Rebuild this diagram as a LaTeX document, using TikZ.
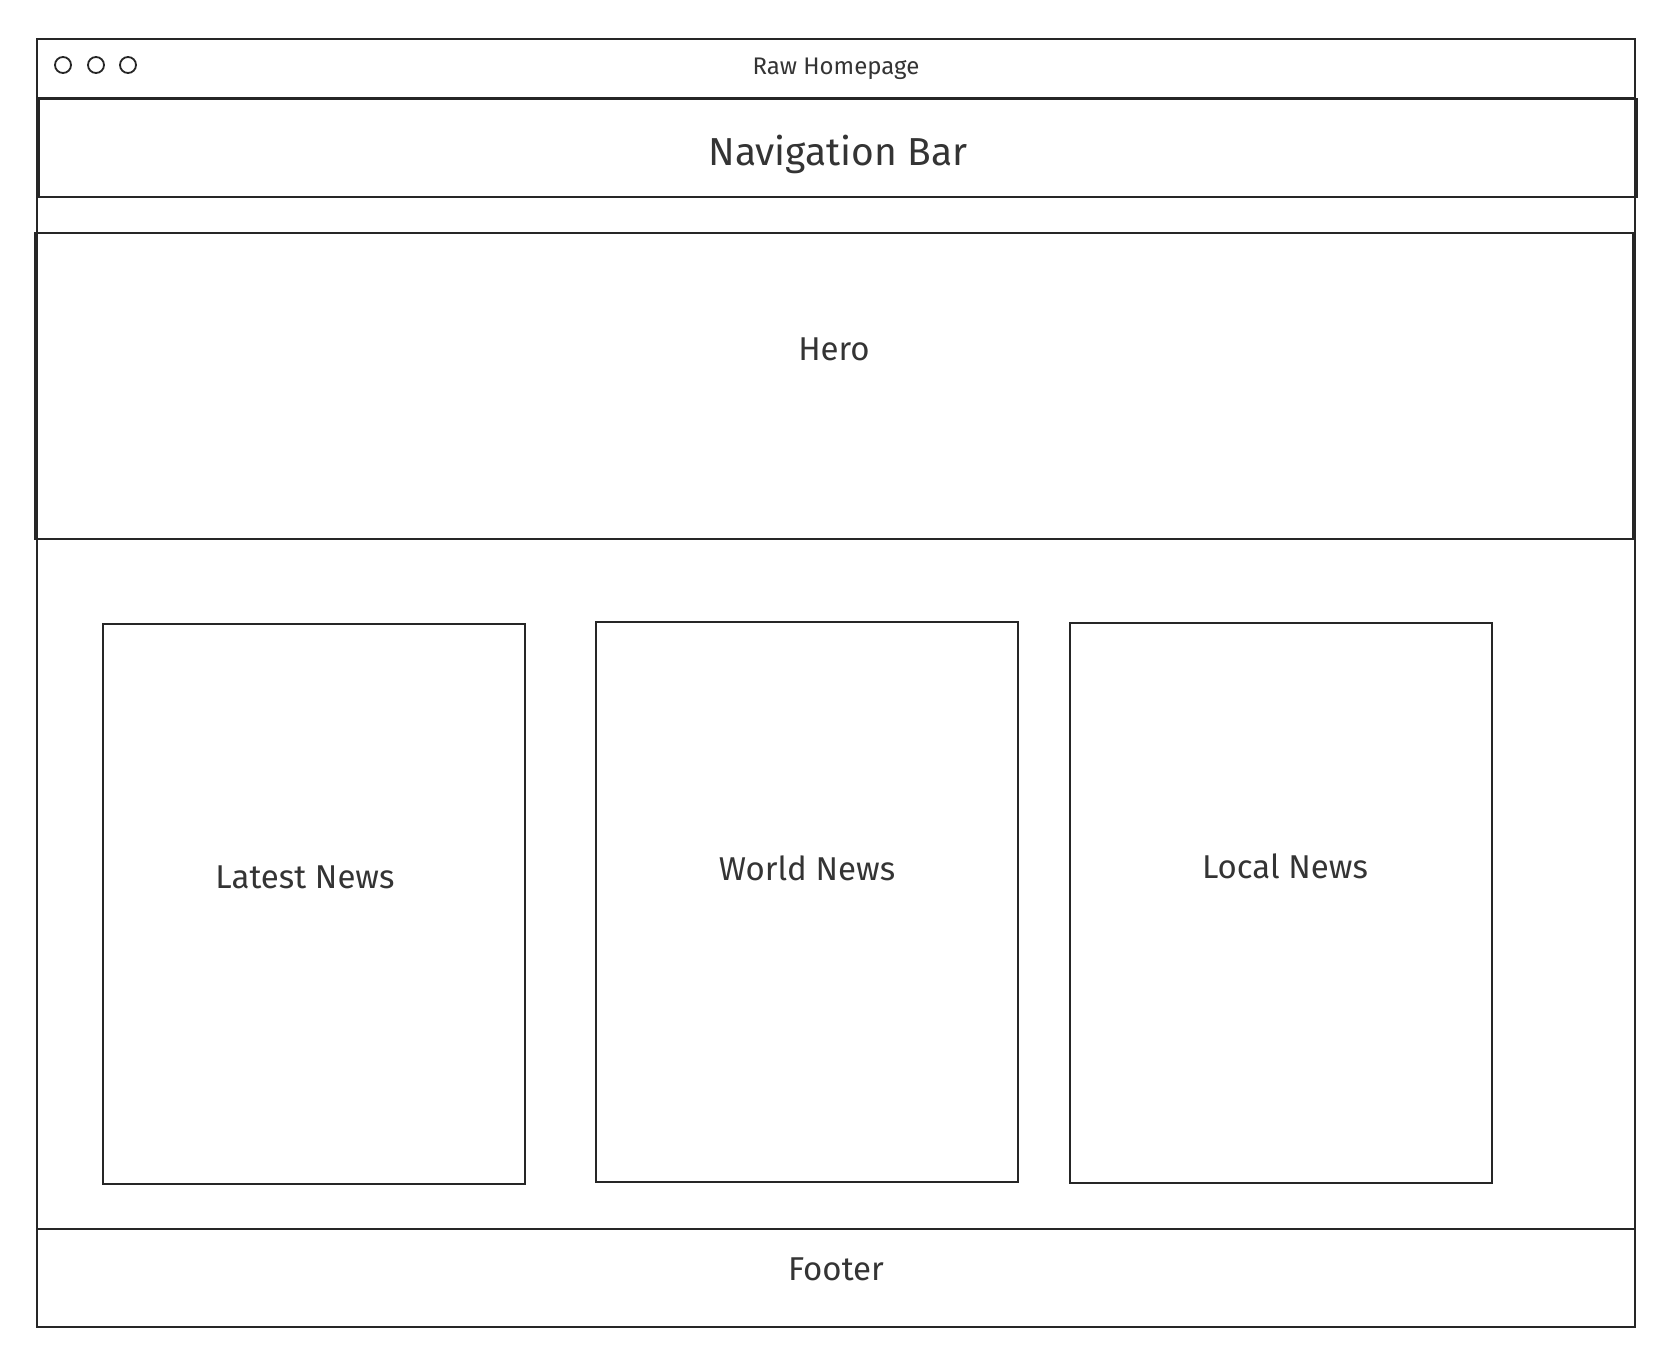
\documentclass[tikz,border=0pt]{standalone}
\usepackage{fontspec}
\setmainfont{Fira Sans}
\usepackage{tikz}
\usetikzlibrary{shapes}
\definecolor{ink}{HTML}{343434}
\tikzstyle{frame}=[draw=black!85, line width=2pt, fill=none, rectangle, inner sep=0pt]
\tikzstyle{bar}=[frame, minimum width=1598pt, text=ink]
\tikzstyle{card}=[frame, minimum width=422pt, minimum height=560pt]
\tikzstyle{dot}=[draw=black!85, line width=1.8pt, circle, inner sep=0pt, minimum size=16pt]
\tikzstyle{note}=[draw=none, text=ink, align=center, font=\fontsize{33}{39}\selectfont]

\begin{document}
\begin{tikzpicture}[x=1pt, y=-1pt]
		\useasboundingbox (0,0) rectangle (1675,1369);
		% First we draw the window and its bars
		\node[frame, minimum width=1598pt, minimum height=1288pt] (window) at (836,683) {};
		\node[bar, minimum height=59pt, font=\fontsize{24}{28}\selectfont] (title) at (836,68.5) {Raw Homepage};
		\node[bar, minimum height=98pt, label={[note, font=\fontsize{39}{45}\selectfont, yshift=-6pt]center:Navigation Bar}] (nav) at (838,148) {};
		\node[bar, minimum height=306pt, label={[note, yshift=37pt]center:Hero}] (hero) at (834,386) {};
		\node[bar, minimum height=98pt, label={[note, yshift=9pt]center:Footer}] (footer) at (836,1278) {};
		
		% The three buttons of the window
		\foreach \x/\label in {63/btna, 96/btnb, 128/btnc}
		\node[dot] (\label) at (\x,65) {};
		
		% Then the news cards
		\foreach \pos/\label/\name/\dx/\dy in {
			{(314,904)/latest/Latest News/-9/27}, {(807,902)/world/World News/0/34}, {(1281,903)/local/Local News/4/37}}
		\node[card, label={[note, xshift=\dx pt, yshift=\dy pt]center:\name}] (\label) at \pos {};
\end{tikzpicture}
\end{document}
